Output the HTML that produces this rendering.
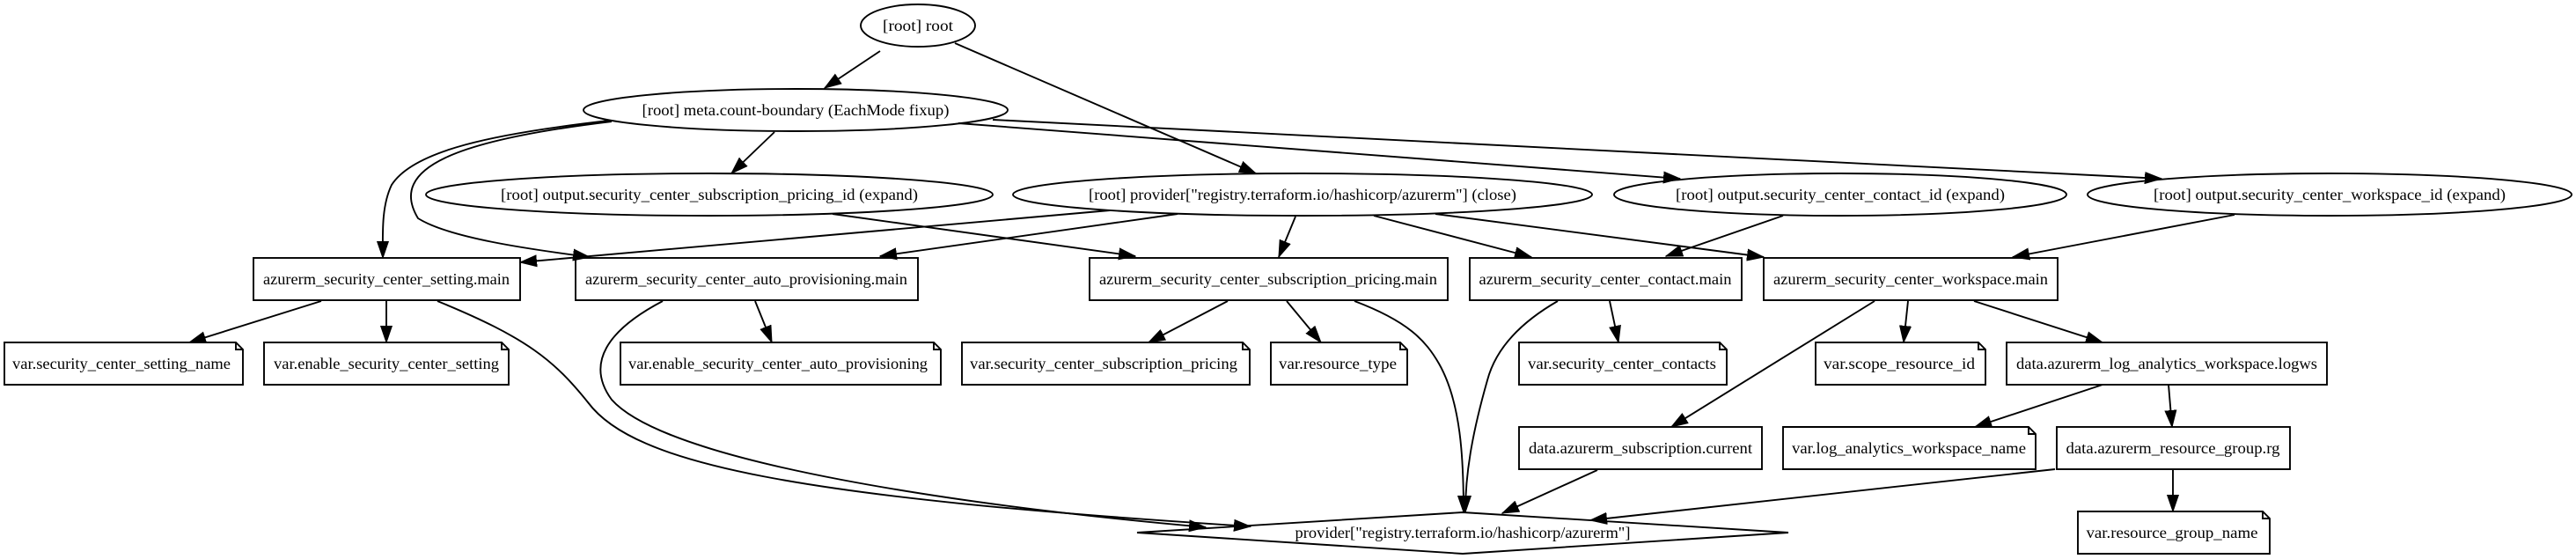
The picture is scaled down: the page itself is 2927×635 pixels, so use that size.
<!DOCTYPE html>
<html><head><meta charset="utf-8"><style>
html,body{margin:0;padding:0;background:#fff;}
svg{display:block;}
text{font-family:"Liberation Serif",serif;font-size:18px;fill:#000;}
</style></head><body>
<svg width="2927" height="635" viewBox="0 0 2927 635" xmlns="http://www.w3.org/2000/svg">
<defs>
<marker id="a" markerUnits="userSpaceOnUse" markerWidth="20" markerHeight="14" refX="19" refY="7" orient="auto">
<path d="M0,0.5 L19,7 L0,13.5 Z" fill="#000" stroke="#000" stroke-width="1"/>
</marker>
</defs>
<g fill="none" stroke="#000" stroke-width="1.9">
<path d="M1000,58 L937,100" marker-end="url(#a)"/>
<path d="M1085,49 L1427,197" marker-end="url(#a)"/>
<path d="M692,137 C560,152 470,171 445,210 C433,235 435,267 435,293" marker-end="url(#a)"/>
<path d="M695,138 C520,159 440,190 475,248 C510,270 600,283 670,292" marker-end="url(#a)"/>
<path d="M880,150 L831,197" marker-end="url(#a)"/>
<path d="M1089,140 L1909,203" marker-end="url(#a)"/>
<path d="M1128,136 L2456,203" marker-end="url(#a)"/>
<path d="M946,243 L1290,291" marker-end="url(#a)"/>
<path d="M1261,239 L591,298" marker-end="url(#a)"/>
<path d="M1338,243 L1000,291" marker-end="url(#a)"/>
<path d="M1472,246 L1453,292" marker-end="url(#a)"/>
<path d="M1561,245 L1740,292" marker-end="url(#a)"/>
<path d="M1631,243 L2004,292" marker-end="url(#a)"/>
<path d="M2026,245 L1893,291" marker-end="url(#a)"/>
<path d="M2539,244 L2287,292" marker-end="url(#a)"/>
<path d="M365,342 L215,389" marker-end="url(#a)"/>
<path d="M439,342 L439,389" marker-end="url(#a)"/>
<path d="M497,342 C600,384 630,410 668,457 C720,527 900,565 1421,598" marker-end="url(#a)"/>
<path d="M858,342 L877,389" marker-end="url(#a)"/>
<path d="M753,342 C690,375 665,413 695,454 C760,527 1100,575 1370,599" marker-end="url(#a)"/>
<path d="M1395,342 L1305,389" marker-end="url(#a)"/>
<path d="M1462,342 L1501,389" marker-end="url(#a)"/>
<path d="M1539,342 C1600,365 1620,387 1635,413 C1660,457 1663,521 1663,582" marker-end="url(#a)"/>
<path d="M1829,342 L1839,389" marker-end="url(#a)"/>
<path d="M1770,342 C1730,365 1700,394 1690,432 C1672,495 1665,540 1665,582" marker-end="url(#a)"/>
<path d="M2130,342 L1899,485" marker-end="url(#a)"/>
<path d="M2168,342 L2163,389" marker-end="url(#a)"/>
<path d="M2243,342 L2389,389" marker-end="url(#a)"/>
<path d="M2389,437 L2244,485" marker-end="url(#a)"/>
<path d="M2464,437 L2468,485" marker-end="url(#a)"/>
<path d="M2469,534 L2469,581" marker-end="url(#a)"/>
<path d="M2335,533 L1807,591" marker-end="url(#a)"/>
<path d="M1815,534 L1707,583" marker-end="url(#a)"/>

<ellipse cx="1043" cy="29" rx="65" ry="24"/>
<ellipse cx="904" cy="125" rx="241" ry="24"/>
<ellipse cx="806" cy="221" rx="322" ry="24"/>
<ellipse cx="1480" cy="221" rx="329" ry="24"/>
<ellipse cx="2091" cy="221" rx="257" ry="24"/>
<ellipse cx="2647" cy="221" rx="275" ry="24"/>

<rect x="288" y="293" width="303" height="48"/>
<rect x="654" y="293" width="389" height="48"/>
<rect x="1238" y="293" width="407" height="48"/>
<rect x="1670" y="293" width="309" height="48"/>
<rect x="2004" y="293" width="334" height="48"/>
<rect x="2280" y="389" width="364" height="48"/>
<rect x="1726" y="485" width="276" height="48"/>
<rect x="2337" y="485" width="265" height="48"/>

<path d="M5,389 H268 L276,397 V437 H5 Z M268,389 V397 H276"/>
<path d="M300,389 H570 L578,397 V437 H300 Z M570,389 V397 H578"/>
<path d="M705,389 H1061 L1069,397 V437 H705 Z M1061,389 V397 H1069"/>
<path d="M1093,389 H1412 L1420,397 V437 H1093 Z M1412,389 V397 H1420"/>
<path d="M1444,389 H1591 L1599,397 V437 H1444 Z M1591,389 V397 H1599"/>
<path d="M1726,389 H1954 L1962,397 V437 H1726 Z M1954,389 V397 H1962"/>
<path d="M2063,389 H2248 L2256,397 V437 H2063 Z M2248,389 V397 H2256"/>
<path d="M2026,485 H2305 L2313,493 V533 H2026 Z M2305,485 V493 H2313"/>
<path d="M2361,581 H2571 L2579,589 V629 H2361 Z M2571,581 V589 H2579"/>

<path d="M1292,605 L1662,582 L2032,605 L1662,629 Z"/>
</g>

<g text-anchor="middle">
<text x="1043" y="35" textLength="80" lengthAdjust="spacingAndGlyphs">[root] root</text>
<text x="904" y="131" textLength="349" lengthAdjust="spacingAndGlyphs">[root] meta.count-boundary (EachMode fixup)</text>
<text x="806" y="227" textLength="474" lengthAdjust="spacingAndGlyphs">[root] output.security_center_subscription_pricing_id (expand)</text>
<text x="1480" y="227" textLength="486" lengthAdjust="spacingAndGlyphs">[root] provider["registry.terraform.io/hashicorp/azurerm"] (close)</text>
<text x="2091" y="227" textLength="374" lengthAdjust="spacingAndGlyphs">[root] output.security_center_contact_id (expand)</text>
<text x="2647" y="227" textLength="400" lengthAdjust="spacingAndGlyphs">[root] output.security_center_workspace_id (expand)</text>

<text x="439" y="323" textLength="280" lengthAdjust="spacingAndGlyphs">azurerm_security_center_setting.main</text>
<text x="848" y="323" textLength="366" lengthAdjust="spacingAndGlyphs">azurerm_security_center_auto_provisioning.main</text>
<text x="1441" y="323" textLength="384" lengthAdjust="spacingAndGlyphs">azurerm_security_center_subscription_pricing.main</text>
<text x="1824" y="323" textLength="287" lengthAdjust="spacingAndGlyphs">azurerm_security_center_contact.main</text>
<text x="2171" y="323" textLength="312" lengthAdjust="spacingAndGlyphs">azurerm_security_center_workspace.main</text>

<text x="138" y="419" textLength="248" lengthAdjust="spacingAndGlyphs">var.security_center_setting_name</text>
<text x="439" y="419" textLength="256" lengthAdjust="spacingAndGlyphs">var.enable_security_center_setting</text>
<text x="884" y="419" textLength="340" lengthAdjust="spacingAndGlyphs">var.enable_security_center_auto_provisioning</text>
<text x="1254" y="419" textLength="304" lengthAdjust="spacingAndGlyphs">var.security_center_subscription_pricing</text>
<text x="1520" y="419" textLength="134" lengthAdjust="spacingAndGlyphs">var.resource_type</text>
<text x="1843" y="419" textLength="214" lengthAdjust="spacingAndGlyphs">var.security_center_contacts</text>
<text x="2158" y="419" textLength="172" lengthAdjust="spacingAndGlyphs">var.scope_resource_id</text>
<text x="2462" y="419" textLength="342" lengthAdjust="spacingAndGlyphs">data.azurerm_log_analytics_workspace.logws</text>

<text x="1864" y="515" textLength="254" lengthAdjust="spacingAndGlyphs">data.azurerm_subscription.current</text>
<text x="2169" y="515" textLength="266" lengthAdjust="spacingAndGlyphs">var.log_analytics_workspace_name</text>
<text x="2469" y="515" textLength="243" lengthAdjust="spacingAndGlyphs">data.azurerm_resource_group.rg</text>
<text x="2468" y="611" textLength="195" lengthAdjust="spacingAndGlyphs">var.resource_group_name</text>

<text x="1662" y="611" textLength="381" lengthAdjust="spacingAndGlyphs">provider["registry.terraform.io/hashicorp/azurerm"]</text>
</g>
</svg>
</body></html>
